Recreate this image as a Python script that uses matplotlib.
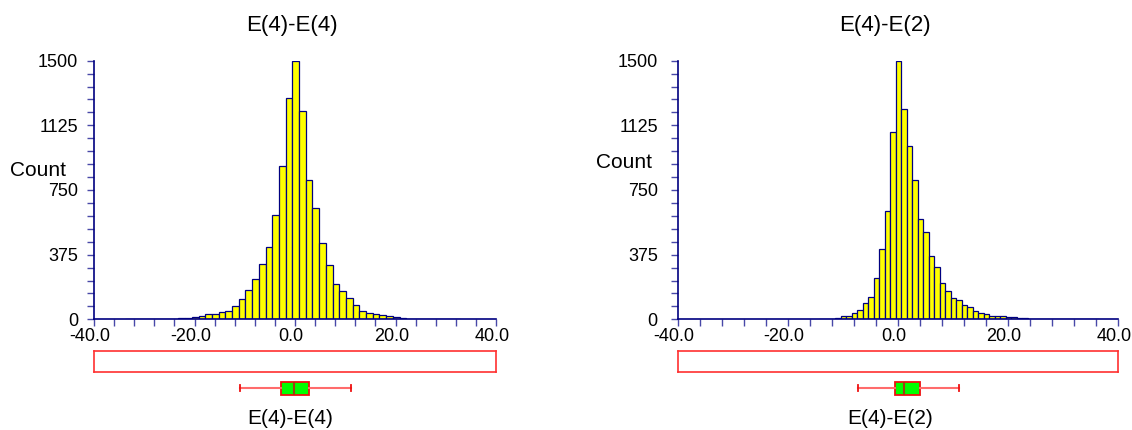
import numpy as np
import matplotlib
matplotlib.use("Agg")
import matplotlib.pyplot as plt
from matplotlib.ticker import MultipleLocator, FormatStrFormatter
from matplotlib.transforms import ScaledTranslation

plt.rcParams['font.family'] = ['Liberation Sans', 'DejaVu Sans']
plt.rcParams['axes.unicode_minus'] = False

# ---------------- data ----------------
titles = ["E(4)-E(4)", "E(4)-E(2)"]
y_label = "Count"

# left histogram: E(4)-E(4)
left_bin_start = -33.87
left_bin_width = 4.0 / 3.0
left_counts = [1, 1, 1, 2, 3, 3, 1, 3, 5, 7, 15, 19, 28, 32, 43, 50, 78, 120,
               172, 235, 322, 417, 603, 888, 1285, 1500, 1207, 808, 646, 442,
               316, 203, 165, 125, 81, 47, 36, 30, 24, 18, 14, 8, 4, 3, 2, 2,
               1, 1, 1, 1]

# right histogram: E(4)-E(2)
right_bin_start = -14.4
right_bin_width = 1.0
right_counts = [1, 2, 3, 6, 18, 20, 38, 52, 93, 130, 239, 408, 627, 1089, 1500,
                1219, 1007, 807, 580, 505, 369, 301, 208, 167, 122, 114, 83, 70,
                47, 35, 28, 22, 22, 21, 15, 12, 8, 6, 4, 3, 3, 2, 2, 1, 1, 1, 0,
                1, 1, 0, 1]

# box plot statistics (whisker low, Q1, median, Q3, whisker high)
left_box = dict(whislo=-10.9, q1=-2.7, med=-0.1, q3=2.8, whishi=11.1)
right_box = dict(whislo=-7.3, q1=-0.5, med=1.15, q3=4.05, whishi=11.0)

x_range = (-40, 40)
y_range = (0, 1500)
y_major = 375
y_minor = 75
x_major = 20
x_minor = 4

# ---------------- layout ----------------
W, H = 1132, 430
fig = plt.figure(figsize=(W / 100, H / 100), dpi=100)


def px_axes(x0, x1, ytop, ybot):
    return fig.add_axes([x0 / W, 1 - ybot / H, (x1 - x0) / W, (ybot - ytop) / H])


navy = '#000080'
tick_col = '#4848a8'

panels = [
    dict(x0=94, x1=496, counts=left_counts, start=left_bin_start,
         width=left_bin_width, box=left_box, title_x=292, bottom_x=290,
         count_xy=(10, 171), ypad=6.5),
    dict(x0=678, x1=1118, counts=right_counts, start=right_bin_start,
         width=right_bin_width, box=right_box, title_x=885, bottom_x=890,
         count_xy=(596, 162), ypad=9.5),
]

for title, p in zip(titles, panels):
    ax = px_axes(p['x0'], p['x1'], 60.7, 319.3)
    counts = np.array(p['counts'])
    lefts = p['start'] + p['width'] * np.arange(len(counts))
    ax.bar(lefts, counts, width=p['width'], align='edge', color='#ffff00',
           edgecolor=navy, linewidth=0.9)
    ax.set_xlim(*x_range)
    ax.set_ylim(*y_range)
    for s in ['top', 'right']:
        ax.spines[s].set_visible(False)
    for s in ['left', 'bottom']:
        ax.spines[s].set_color(navy)
        ax.spines[s].set_linewidth(1.2)
    ax.xaxis.set_major_locator(MultipleLocator(x_major))
    ax.xaxis.set_minor_locator(MultipleLocator(x_minor))
    ax.yaxis.set_major_locator(MultipleLocator(y_major))
    ax.yaxis.set_minor_locator(MultipleLocator(y_minor))
    ax.xaxis.set_major_formatter(FormatStrFormatter('%.1f'))
    ax.tick_params(axis='both', which='both', length=5, width=1, color=tick_col,
                   labelsize=13, labelcolor='black')
    ax.tick_params(axis='x', which='major', pad=1)
    ax.tick_params(axis='y', which='major', pad=p['ypad'])
    ax.set_xticks(np.arange(x_range[0], x_range[1] + 1, x_major))
    off = ScaledTranslation(-4 / 100, 0, fig.dpi_scale_trans)
    for t in ax.xaxis.get_major_ticks():
        t.label1.set_transform(t.label1.get_transform() + off)

    fig.text(p['count_xy'][0] / W, 1 - p['count_xy'][1] / H, y_label,
             ha='left', va='center', fontsize=15)
    fig.text(p['title_x'] / W, 1 - 25 / H, title, ha='center', va='center',
             fontsize=16)
    fig.text(p['bottom_x'] / W, 1 - 418 / H, title, ha='center', va='center',
             fontsize=15)

    # red frame strip
    axf = px_axes(p['x0'], p['x1'], 350.7, 372.3)
    axf.set_xticks([])
    axf.set_yticks([])
    for s in axf.spines.values():
        s.set_color('#ff3030')
        s.set_linewidth(1.2)

    # box plot
    axb = px_axes(p['x0'], p['x1'], 375, 401)
    axb.set_xlim(*x_range)
    axb.set_ylim(-1, 1)
    axb.axis('off')
    stats = dict(p['box'])
    stats['fliers'] = []
    axb.bxp([stats], positions=[0], widths=1.0, orientation='horizontal',
            patch_artist=True, showfliers=False,
            boxprops=dict(facecolor='#00ff00', edgecolor='#ee1010', linewidth=1.3),
            whiskerprops=dict(color='#ff6b6b', linewidth=1.5),
            capprops=dict(color='#ee1010', linewidth=1.3),
            medianprops=dict(color='#a04010', linewidth=1.5))

fig.savefig('out.png', dpi=100)
